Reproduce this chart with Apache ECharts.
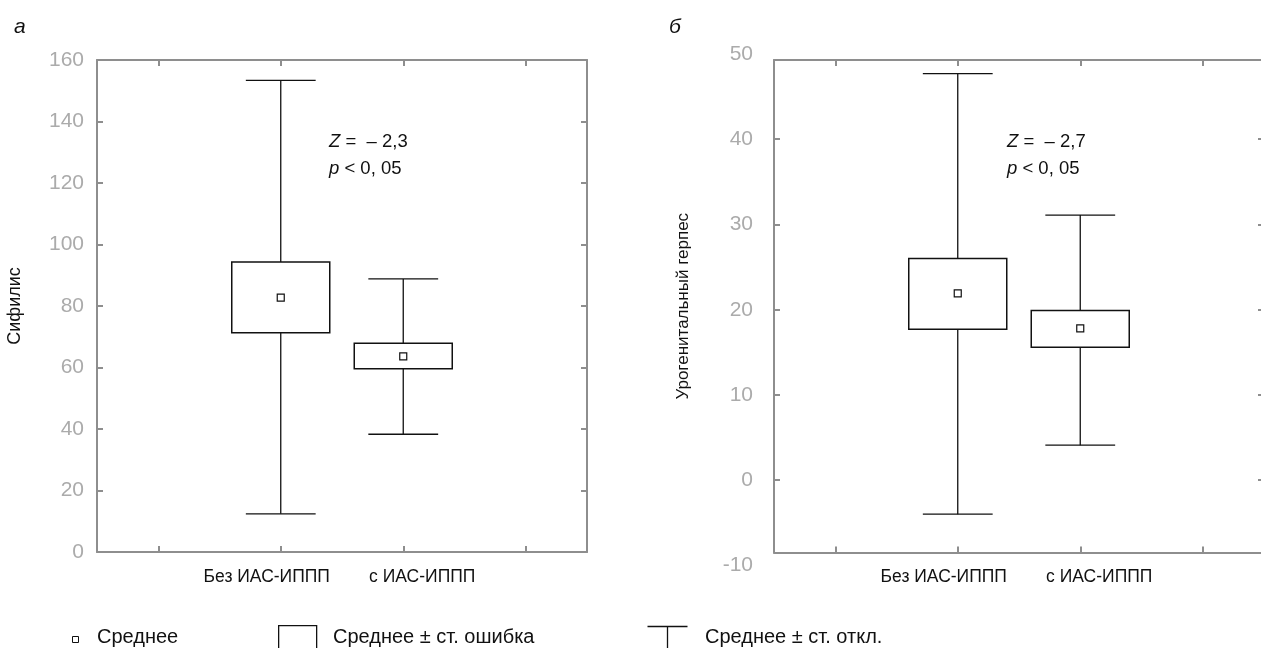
<!DOCTYPE html>
<html>
<head>
    <meta charset="utf-8">
    <title>ECharts</title>
    <script src="https://cdn.jsdelivr.net/npm/echarts@6/dist/echarts.min.js"></script>
    <style>
        html, body { margin: 0; padding: 0; background: #fff; }
    </style>
</head>
<body>
    <div id="main" style="width: 1261px;height:648px;"></div>
    <script type="text/javascript">
        // группы
        var categories = ['Без ИАС-ИППП', 'с ИАС-ИППП'];

        // а) сифилис: среднее, ± ст. ошибка, ± ст. откл.
        var sifSdHigh = [153.4, 88.8];
        var sifSeHigh = [94.3, 67.9];
        var sifMean   = [82.7, 63.6];
        var sifSeLow  = [71.3, 59.6];
        var sifSdLow  = [12.4, 38.3];

        // б) урогенитальный герпес
        var herSdHigh = [47.7, 31.1];
        var herSeHigh = [26.0, 19.9];
        var herMean   = [21.9, 17.8];
        var herSeLow  = [17.7, 15.6];
        var herSdLow  = [-4.0, 4.1];

        // шкалы
        var sifAxis = { min: 0, max: 160, interval: 20 };
        var herFrame = { min: -8.5, max: 49.3 };       // рамка графика б
        var herLabels = { min: -10, max: 50, interval: 10 };

        var font = "'Liberation Sans', Arial, sans-serif";
        var frameColor = '#8e8e8e';
        var labelColor = '#ababab';
        var ink = '#111';

        function boxData(sdH, seH, m, seL, sdL) {
            return categories.map(function (c, i) {
                return [i + 1, sdH[i], seH[i], m[i], seL[i], sdL[i]];
            });
        }

        function renderBox(params, api) {
            var x = api.value(0);
            var sdH = api.coord([x, api.value(1)]);
            var seH = api.coord([x, api.value(2)]);
            var m = api.coord([x, api.value(3)]);
            var seL = api.coord([x, api.value(4)]);
            var sdL = api.coord([x, api.value(5)]);
            var band = api.size([1, 0])[0];
            var boxW = band * 0.8, capW = band * 0.57;
            var ln = { stroke: ink, lineWidth: 1.3 };
            return {
                type: 'group',
                children: [
                    { type: 'line', shape: { x1: sdH[0], y1: sdH[1], x2: seH[0], y2: seH[1] }, style: ln },
                    { type: 'line', shape: { x1: seL[0], y1: seL[1], x2: sdL[0], y2: sdL[1] }, style: ln },
                    { type: 'line', shape: { x1: sdH[0] - capW / 2, y1: sdH[1], x2: sdH[0] + capW / 2, y2: sdH[1] }, style: ln },
                    { type: 'line', shape: { x1: sdL[0] - capW / 2, y1: sdL[1], x2: sdL[0] + capW / 2, y2: sdL[1] }, style: ln },
                    { type: 'rect', shape: { x: seH[0] - boxW / 2, y: seH[1], width: boxW, height: seL[1] - seH[1] },
                      style: { fill: '#fff', stroke: ink, lineWidth: 1.5 } },
                    { type: 'rect', shape: { x: m[0] - 3.5, y: m[1] - 3.5, width: 7, height: 7 },
                      style: { fill: '#fff', stroke: ink, lineWidth: 1.2 } }
                ]
            };
        }

        var axisCats = [''].concat(categories).concat(['']).map(function (c, i) {
            if (i === 1) return { value: c, textStyle: { padding: [0, 28, 0, 0] } };
            if (i === 2) return { value: c, textStyle: { padding: [0, 0, 0, 38] } };
            return c;
        });

        function catAxis(grid, pos, labels) {
            return {
                type: 'category', gridIndex: grid, position: pos, data: axisCats,
                axisLine: { show: true, onZero: false, lineStyle: { color: frameColor, width: 2 } },
                axisTick: { show: true, inside: true, alignWithLabel: true, interval: 0, length: 6,
                            lineStyle: { color: frameColor, width: 2 } },
                axisLabel: { show: labels, interval: 0, color: ink, fontFamily: font, fontSize: 17.5, margin: 16 },
                splitLine: { show: false }
            };
        }

        function valAxis(grid, pos, range, labels) {
            var a = {
                type: 'value', gridIndex: grid, position: pos,
                min: range.min, max: range.max,
                axisLine: { show: true, onZero: false, lineStyle: { color: frameColor, width: 2 } },
                axisTick: { show: true, inside: true, length: 6, lineStyle: { color: frameColor, width: 2 } },
                axisLabel: { show: labels, color: labelColor, fontFamily: font, fontSize: 21, margin: 13,
                             padding: [5, 0, 0, 0] },
                splitLine: { show: false }
            };
            if (range.interval) a.interval = range.interval;
            return a;
        }

        var myChart = echarts.init(document.getElementById('main'));

        var yHerLeft = valAxis(1, 'left', herFrame, false);
        yHerLeft.splitNumber = 5;
        yHerLeft.name = 'Урогенитальный герпес';
        yHerLeft.nameLocation = 'middle';
        yHerLeft.nameGap = 82;
        yHerLeft.nameTextStyle = { color: ink, fontFamily: font, fontSize: 17 };
        // правая граница рамки «б» уходит за край рисунка, видны только засечки
        var yHerRight = valAxis(1, 'right', herFrame, false);
        yHerRight.splitNumber = 5;
        yHerRight.axisLine.show = false;

        var ySif = valAxis(0, 'left', sifAxis, true);
        ySif.name = 'Сифилис';
        ySif.nameLocation = 'middle';
        ySif.nameGap = 73;
        ySif.nameTextStyle = { color: ink, fontFamily: font, fontSize: 18 };

        var yHerLabels = valAxis(2, 'left', herLabels, true);
        yHerLabels.axisLine = { show: false };
        yHerLabels.axisTick = { show: false };
        yHerLabels.axisLabel.margin = 21;

        var rich = { i: { fontStyle: 'italic', fontFamily: font, fontSize: 18.5, color: ink } };
        var noteStyle = { fontFamily: font, fontSize: 18.5, fontWeight: 'normal', color: ink, lineHeight: 27, rich: rich };
        var letterStyle = { fontStyle: 'italic', fontWeight: 'normal', fontFamily: font, fontSize: 21, color: ink };

        var option = {
            animation: false,
            backgroundColor: '#fff',
            title: [
                { text: 'а', left: 9, top: 12, textStyle: letterStyle },
                { text: 'б', left: 664, top: 12, textStyle: letterStyle },
                { text: '{i|Z} =  – 2,3\n{i|p} < 0, 05', left: 324, top: 123, textStyle: noteStyle },
                { text: '{i|Z} =  – 2,7\n{i|p} < 0, 05', left: 1002, top: 123, textStyle: noteStyle }
            ],
            grid: [
                { left: 97, top: 60, width: 490, height: 492, outerBoundsMode: 'none' },
                { left: 774, top: 60, width: 490, height: 492.5, outerBoundsMode: 'none' },
                { left: 774, top: 54.3, width: 490, height: 511, outerBoundsMode: 'none' }
            ],
            xAxis: [
                catAxis(0, 'bottom', true),
                catAxis(0, 'top', false),
                catAxis(1, 'bottom', true),
                catAxis(1, 'top', false),
                { type: 'category', gridIndex: 2, data: axisCats, show: false }
            ],
            yAxis: [
                ySif,
                valAxis(0, 'right', sifAxis, false),
                yHerLeft,
                yHerRight,
                yHerLabels
            ],
            series: [
                { type: 'custom', xAxisIndex: 0, yAxisIndex: 0, renderItem: renderBox,
                  encode: { x: 0, y: [1, 2, 3, 4, 5] },
                  data: boxData(sifSdHigh, sifSeHigh, sifMean, sifSeLow, sifSdLow) },
                { type: 'custom', xAxisIndex: 2, yAxisIndex: 2, renderItem: renderBox,
                  encode: { x: 0, y: [1, 2, 3, 4, 5] },
                  data: boxData(herSdHigh, herSeHigh, herMean, herSeLow, herSdLow) }
            ],
            graphic: [
                { type: 'rect', left: 72, top: 636, shape: { width: 6, height: 6 },
                  style: { fill: '#fff', stroke: ink, lineWidth: 1 } },
                { type: 'text', left: 97, top: 627, style: { text: 'Среднее', fill: ink, font: '20px ' + font } },
                { type: 'rect', left: 278, top: 625, shape: { width: 38, height: 30 },
                  style: { fill: '#fff', stroke: ink, lineWidth: 1.3 } },
                { type: 'text', left: 333, top: 627, style: { text: 'Среднее ± ст. ошибка', fill: ink, font: '20px ' + font } },
                { type: 'group', left: 645, top: 624, children: [
                    { type: 'line', shape: { x1: 0, y1: 0, x2: 40, y2: 0 }, style: { stroke: ink, lineWidth: 1.3 } },
                    { type: 'line', shape: { x1: 20, y1: 0, x2: 20, y2: 40 }, style: { stroke: ink, lineWidth: 1.3 } }
                ] },
                { type: 'text', left: 705, top: 627, style: { text: 'Среднее ± ст. откл.', fill: ink, font: '20px ' + font } }
            ]
        };

        myChart.setOption(option);
    </script>
</body>
</html>
